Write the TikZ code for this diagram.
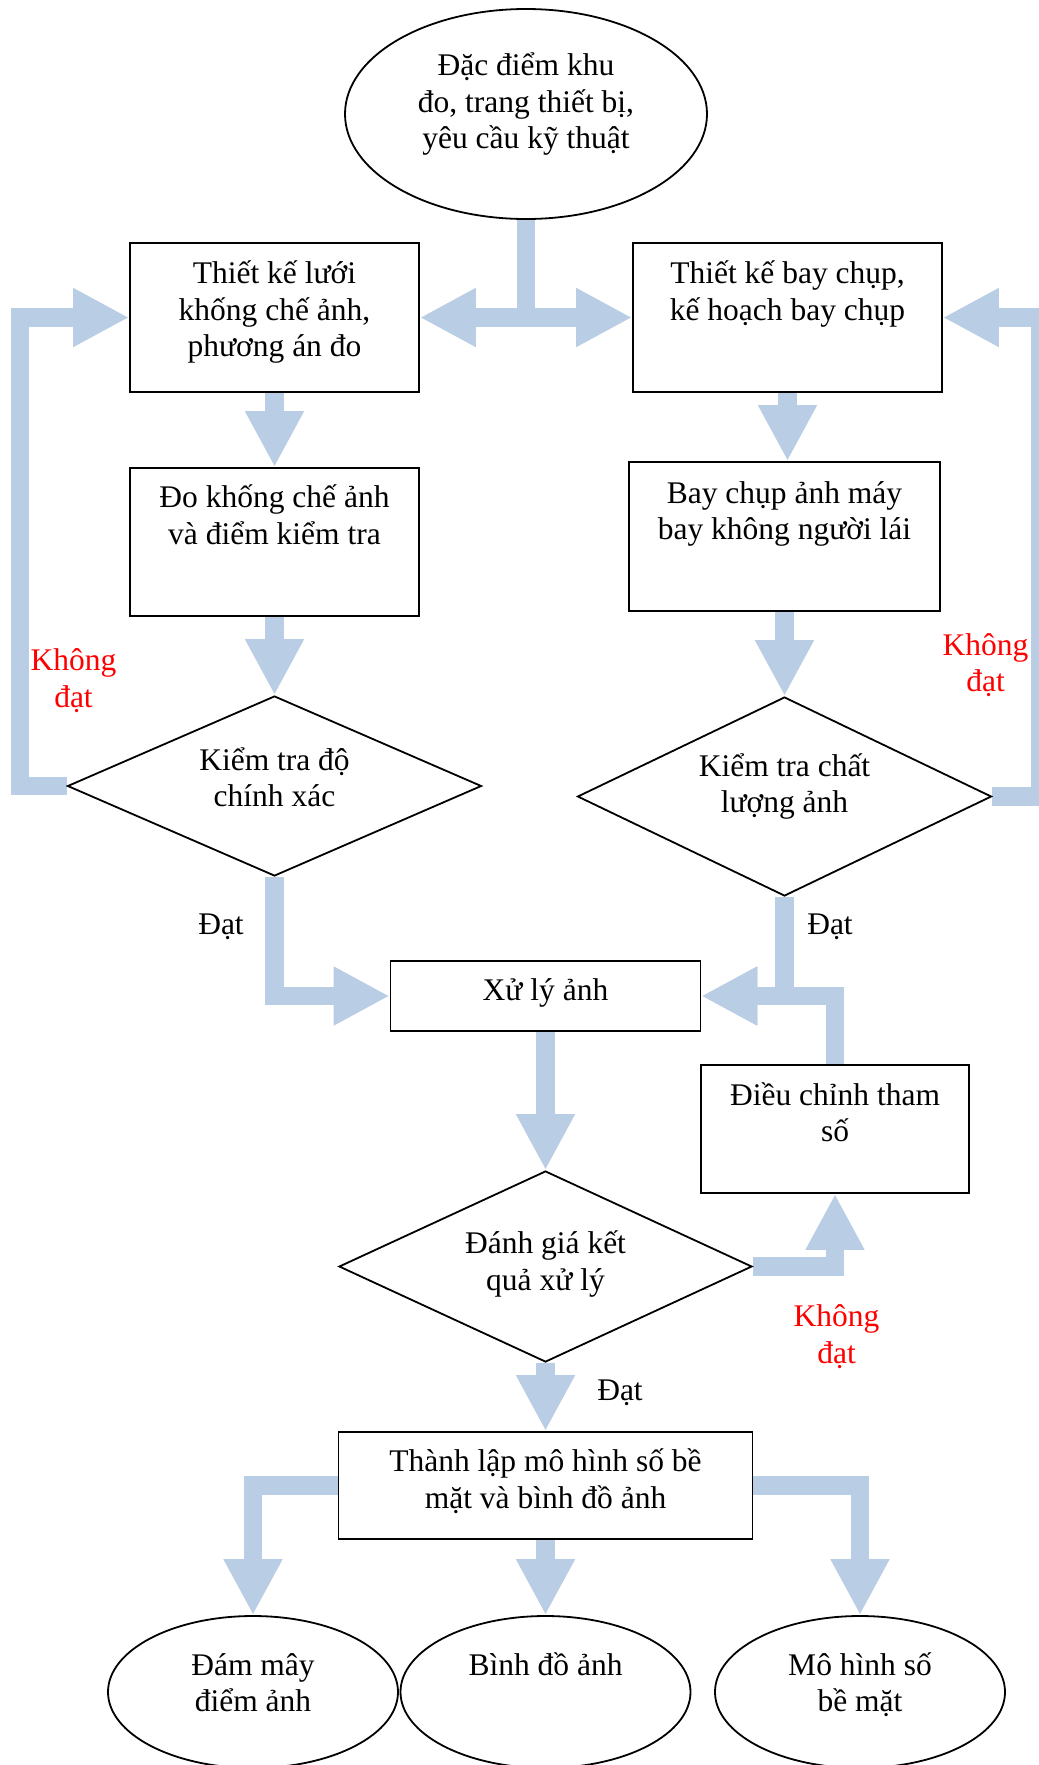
\documentclass[tikz,border=0pt]{standalone}
\usepackage{fontspec}
\setmainfont{Liberation Serif}
\usetikzlibrary{shapes.geometric,arrows.meta,backgrounds}
\definecolor{arrowblue}{RGB}{185,205,229}
\newcommand\mlines[1]{\vtop{\halign{\hfil##\hfil\cr#1\crcr}}}
\begin{document}
\begin{tikzpicture}[x=1pt,y=-1pt,
  pbox/.style={draw, line width=1.8pt, rectangle, inner sep=0pt},
  pdiam/.style={draw, line width=1.8pt, diamond, inner sep=0pt},
  pell/.style={draw, line width=1.8pt, ellipse, inner sep=0pt},
  txt/.style={anchor=base, inner sep=0pt, font=\fontsize{31.5}{36.7}\selectfont},
  fat/.style={line width=18.5pt, draw=arrowblue, line join=miter, -{Triangle[width=55pt,length=56pt]}}
]
\useasboundingbox (0,0) rectangle (1039,1765);

% shapes
\node[pell, minimum width=362pt, minimum height=210pt] (s) at (526,114) {};
\node[pbox, minimum width=289pt, minimum height=149pt] (a) at (274.5,317.5) {};
\node[pbox, minimum width=309pt, minimum height=149pt] (b) at (787.5,317.5) {};
\node[pbox, minimum width=289pt, minimum height=148pt] (c) at (274.5,542) {};
\node[pbox, minimum width=311pt, minimum height=149pt] (d) at (784.5,536.5) {};
\node[pdiam, minimum width=414pt, minimum height=180pt] (e) at (274.5,786) {};
\node[pdiam, minimum width=414pt, minimum height=199pt] (f) at (784.5,796.5) {};
\node[pbox, minimum width=310pt, minimum height=70pt] (g) at (545.5,996) {};
\node[pbox, minimum width=268pt, minimum height=128pt] (h) at (835,1129) {};
\node[pdiam, minimum width=413pt, minimum height=191pt] (i) at (545.5,1266.5) {};
\node[pbox, minimum width=414pt, minimum height=107pt] (j) at (545.5,1485.5) {};
\node[pell, minimum width=290pt, minimum height=152pt] (k) at (253,1692) {};
\node[pell, minimum width=290pt, minimum height=152pt] (l) at (545.5,1692) {};
\node[pell, minimum width=290pt, minimum height=152pt] (m) at (860,1692) {};

% texts
\node[txt] (ts) at (526,75.3) {\mlines{Đặc điểm khu\cr đo, trang thiết bị,\cr yêu cầu kỹ thuật}};
\node[txt] (ta) at (274.5,283.3) {\mlines{Thiết kế lưới\cr khống chế ảnh,\cr phương án đo}};
\node[txt] (tb) at (787.5,283.3) {\mlines{Thiết kế bay chụp,\cr kế hoạch bay chụp}};
\node[txt] (tc) at (274.5,507.5) {\mlines{Đo khống chế ảnh\cr và điểm kiểm tra}};
\node[txt] (td) at (784.5,503) {\mlines{Bay chụp ảnh máy\cr bay không người lái}};
\node[txt] (te) at (274.5,770) {\mlines{Kiểm tra độ\cr chính xác}};
\node[txt] (tf) at (784.5,776) {\mlines{Kiểm tra chất\cr lượng ảnh}};
\node[txt] (tg) at (545.5,1000) {Xử lý ảnh};
\node[txt] (th) at (835,1105) {\mlines{Điều chỉnh tham\cr số}};
\node[txt] (ti) at (545.5,1253.3) {\mlines{Đánh giá kết\cr quả xử lý}};
\node[txt] (tj) at (545.5,1471.7) {\mlines{Thành lập mô hình số bề\cr mặt và bình đồ ảnh}};
\node[txt] (tk) at (253,1675) {\mlines{Đám mây\cr điểm ảnh}};
\node[txt] (tl) at (545.5,1675) {Bình đồ ảnh};
\node[txt] (tm) at (860,1675) {\mlines{Mô hình số\cr bề mặt}};

% labels
\node[txt, text=red] (l1) at (73.5,670.7) {\mlines{Không\cr đạt}};
\node[txt, text=red] (l2) at (985.5,655) {\mlines{Không\cr đạt}};
\node[txt] (l3) at (221,934) {Đạt};
\node[txt] (l4) at (830,934) {Đạt};
\node[txt, text=red] (l5) at (836.5,1326.7) {\mlines{Không\cr đạt}};
\node[txt] (l6) at (620,1400.7) {Đạt};

% connectors
\begin{pgfonlayer}{background}
\draw[fat] (s.south) |- (a.east);
\draw[fat] (s.south) |- (b.west);
\draw[fat] (a.south) -- (c.north);
\draw[fat] (c.south) -- (e.north);
\draw[fat] (b.south) -- (b.south |- d.north);
\draw[fat] (d.south) -- (f.north);
\draw[fat] (e.west) -- ++(-46.5,0) |- (a.west);
\draw[fat] (f.east) -- ++(47.5,0) |- (b.east);
\draw[fat] (e.south) |- (g.west);
\draw[fat] (f.south) |- (g.east);
\draw[fat] (h.north) |- (g.east);
\draw[fat] (g.south) -- (i.north);
\draw[fat] (i.east) -| (h.south);
\draw[fat] (i.south) -- (j.north);
\draw[fat] (j.west) -| (k.north);
\draw[fat] (j.south) -- (l.north);
\draw[fat] (j.east) -| (m.north);
\end{pgfonlayer}
\end{tikzpicture}
\end{document}
